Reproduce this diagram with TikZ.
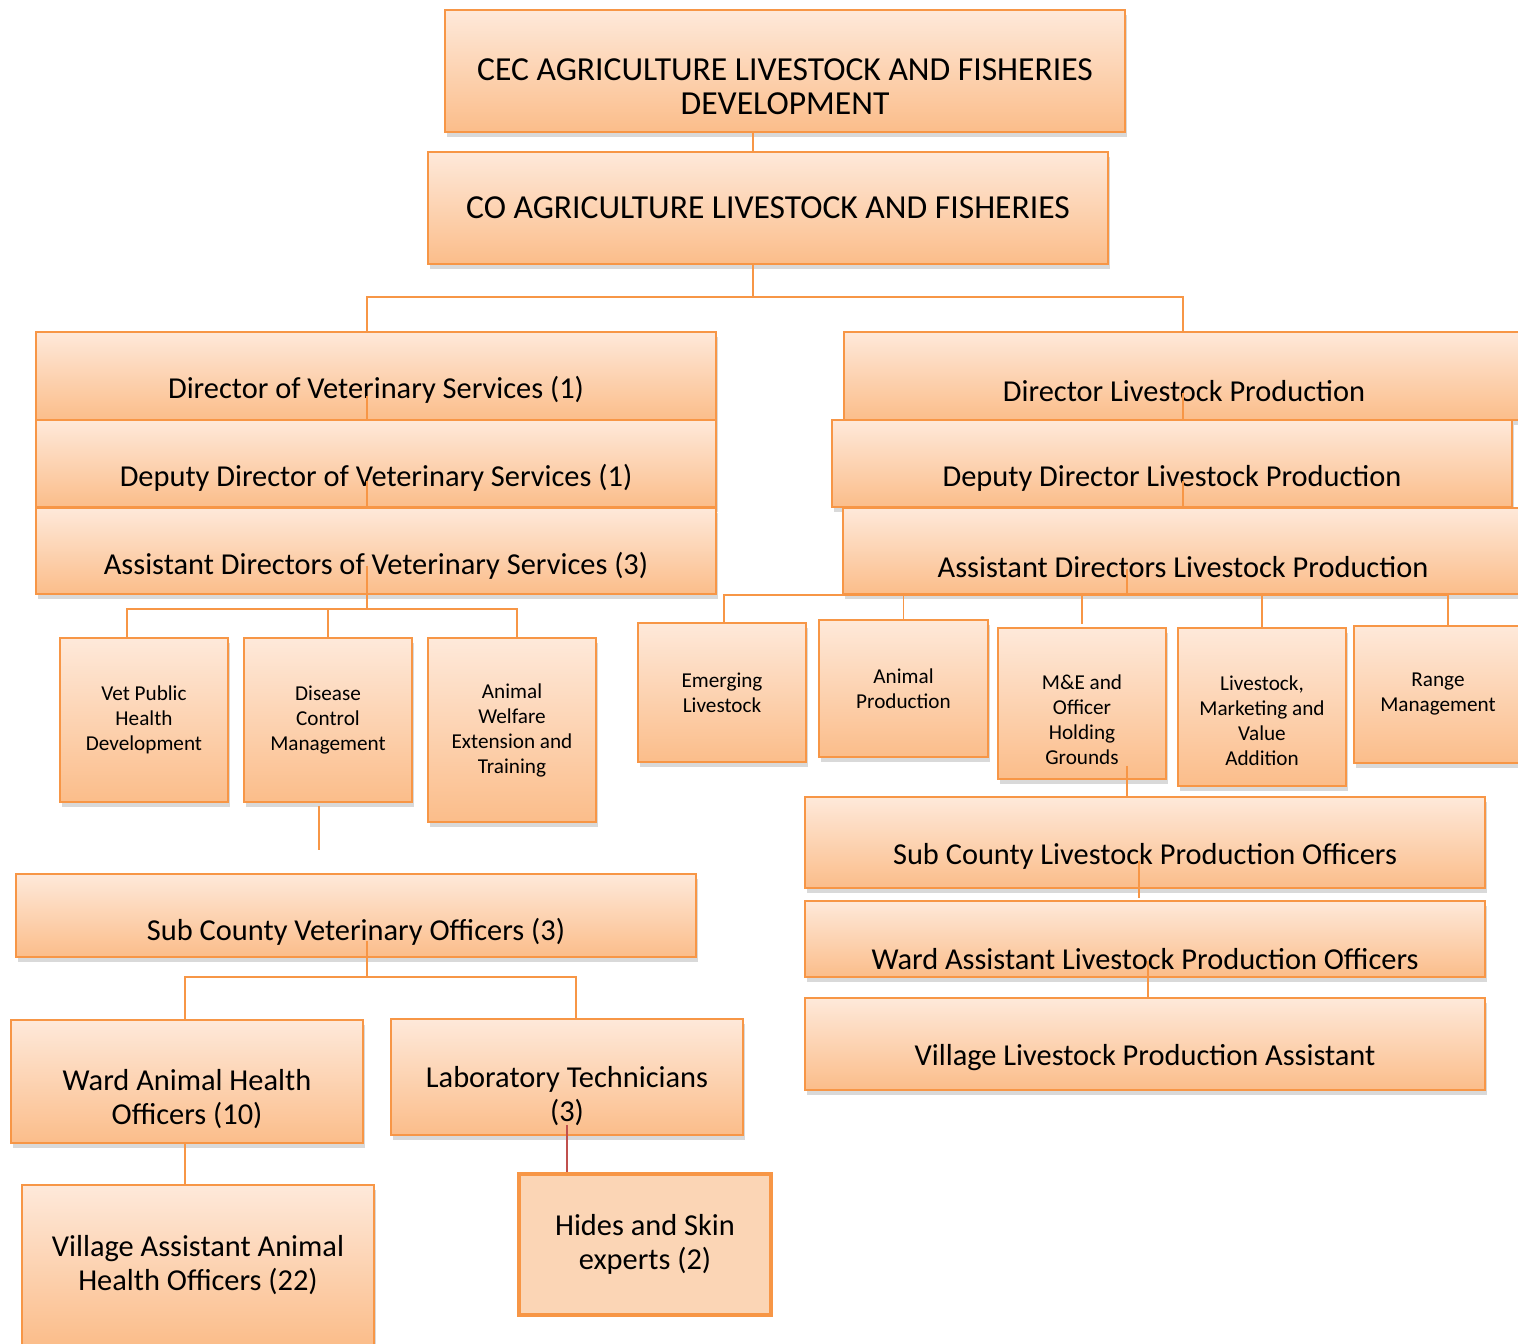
\documentclass[tikz,border=0pt]{standalone}
\usepackage{fontspec}
\setmainfont{Carlito}
\usetikzlibrary{shadows}
\definecolor{boxline}{HTML}{F79646}
\definecolor{boxtop}{HTML}{FEE9DA}
\definecolor{boxbot}{HTML}{FBBD8A}
\definecolor{hidefill}{HTML}{FBD5B5}
\definecolor{redlink}{HTML}{C0504D}
% pushes the text of a box down by #1
\newcommand{\sink}[1]{\rule{0pt}{\dimexpr0.8em+#1*2\relax}}
\tikzset{
  box/.style={draw=boxline, line width=0.75pt, top color=boxtop, bottom color=boxbot,
    align=center, inner sep=2pt,
    drop shadow={opacity=0.3, shadow xshift=1pt, shadow yshift=-2.5pt}},
  toptext/.style={font=\fontsize{16.8}{17}\selectfont},
  bigtext/.style={font=\fontsize{15.2}{17}\selectfont},
  smalltext/.style={font=\fontsize{10.6}{12.5}\selectfont},
  lower/.style={execute at begin node={\sink{#1}}},
  link/.style={draw=boxline, line width=0.75pt},
}
\begin{document}
\begin{tikzpicture}[x=0.5pt, y=-0.5pt]
\useasboundingbox (0,0) rectangle (1518,1343);
% top
\node[box, toptext, minimum width=340pt, minimum height=61pt] (cec) at (785,71) {\sink{6.75pt}CEC AGRICULTURE LIVESTOCK AND FISHERIES\\DEVELOPMENT};
\node[box, toptext, minimum width=340pt, minimum height=56pt] (co) at (768,208) {CO AGRICULTURE LIVESTOCK AND FISHERIES};
% veterinary column
\node[box, bigtext, lower=6.5pt, minimum width=340pt, minimum height=44pt] (dvs) at (376,376) {Director of Veterinary Services (1)};
\node[box, bigtext, lower=6.75pt, minimum width=340pt, minimum height=43.5pt] (ddvs) at (376,463.5) {Deputy Director of Veterinary Services (1)};
\node[box, bigtext, lower=7pt, minimum width=340pt, minimum height=43pt] (advs) at (376,551) {Assistant Directors of Veterinary Services (3)};
% livestock production column
\node[box, bigtext, lower=6.5pt, minimum width=340pt, minimum height=44pt] (dlp) at (1184,376) {Director Livestock Production};
\node[box, bigtext, lower=6.75pt, minimum width=340pt, minimum height=43.5pt] (ddlp) at (1172,463.5) {Deputy Director Livestock Production};
\node[box, bigtext, lower=7pt, minimum width=340pt, minimum height=43pt] (adlp) at (1183,551) {Assistant Directors Livestock Production};
% veterinary units
\node[box, smalltext, minimum width=84pt, minimum height=82pt] (vph) at (144,720) {Vet Public\\Health\\Development};
\node[box, smalltext, minimum width=84pt, minimum height=82pt] (dcm) at (328,720) {Disease\\Control\\Management};
\node[box, smalltext, minimum width=84pt, minimum height=92pt] (awet) at (512,730) {Animal\\Welfare\\Extension and\\Training};
% livestock units
\node[box, smalltext, minimum width=84pt, minimum height=69.5pt] (eml) at (722,692.5) {Emerging\\Livestock};
\node[box, smalltext, minimum width=84.5pt, minimum height=68.5pt] (anp) at (903.5,688.5) {Animal\\Production};
\node[box, smalltext, minimum width=84pt, minimum height=75.5pt] (meo) at (1082,703.5) {\sink{7.75pt}M\&E and\\Officer\\Holding\\Grounds};
\node[box, smalltext, minimum width=84pt, minimum height=79pt] (lmva) at (1262,707) {\sink{6.25pt}Livestock,\\Marketing and\\Value\\Addition};
\node[box, smalltext, minimum width=84pt, minimum height=68.5pt] (rng) at (1438,694.5) {Range\\Management};
% field staff, livestock
\node[box, bigtext, lower=6.25pt, minimum width=340pt, minimum height=45.5pt] (sclp) at (1145,842.5) {Sub County Livestock Production Officers};
\node[box, bigtext, lower=9pt, minimum width=340pt, minimum height=38pt] (walp) at (1145,939) {Ward Assistant Livestock Production Officers};
\node[box, bigtext, lower=6pt, minimum width=340pt, minimum height=46pt] (vlpa) at (1145,1044) {Village Livestock Production Assistant};
% field staff, veterinary
\node[box, bigtext, lower=7.75pt, minimum width=340pt, minimum height=41.5pt] (scvo) at (356,915.5) {Sub County Veterinary Officers (3)};
\node[box, bigtext, minimum width=176pt, minimum height=61.5pt] (waho) at (187,1081.5) {\sink{8pt}Ward Animal Health\\Officers (10)};
\node[box, bigtext, minimum width=176pt, minimum height=58pt] (labt) at (567,1077) {\sink{8.5pt}Laboratory Technicians\\(3)};
\node[box, bigtext, minimum width=176pt, minimum height=80pt] (vaaho) at (198,1265) {Village Assistant Animal\\Health Officers (22)};
\node[draw=boxline, line width=2pt, fill=hidefill, align=center, bigtext, minimum width=126pt, minimum height=70.5pt] (hse) at (645,1244.5) {Hides and Skin\\experts (2)};
% connectors
\coordinate (topbus) at (753,297);
\coordinate (vetbus) at (367,297);
\coordinate (lpbus) at (1183,297);
\draw[link] (topbus |- cec.south) -- (topbus |- co.north);
\draw[link] (topbus |- co.south) -- (topbus);
\draw[link] (vetbus |- dvs.north) -- (vetbus) -- (lpbus) -- (lpbus |- dlp.north);
\draw[link] ([yshift=12.5pt]vetbus |- dvs.south) -- (vetbus |- ddvs.north);
\draw[link] ([yshift=13.5pt]vetbus |- ddvs.south) -- (vetbus |- advs.north);
\coordinate (vetsub) at (367,609);
\coordinate (vetsubL) at (127,609);
\coordinate (vetsubR) at (517,609);
\draw[link] ([yshift=14.5pt]vetbus |- advs.south) -- (vetsub);
\draw[link] (vetsubL |- vph.north) -- (vetsubL) -- (vetsubR) -- (vetsubR |- awet.north);
\draw[link] (dcm.north |- vetsub) -- (dcm.north);
\coordinate (dcmend) at (319,850);
\draw[link] ([yshift=-1.5pt]dcmend |- dcm.south) -- (dcmend);
\draw[link] ([yshift=14pt]lpbus |- dlp.south) -- (lpbus |- ddlp.north);
\draw[link] ([yshift=13.5pt]lpbus |- ddlp.south) -- (lpbus |- adlp.north);
\coordinate (lpsub) at (1127,595);
\coordinate (lpsubL) at (724,595);
\coordinate (lpsubR) at (1448,595);
\draw[link] ([yshift=13pt]lpsub |- adlp.south) -- (lpsub);
\draw[link] (lpsubL |- eml.north) -- (lpsubL) -- (lpsubR) -- (lpsubR |- rng.north);
\draw[link] (anp.north |- lpsub) -- (anp.north);
\draw[link] (meo.north |- lpsub) -- ([yshift=1.5pt]meo.north);
\draw[link] (lmva.north |- lpsub) -- (lmva.north);
\draw[link] ([yshift=7pt]lpsub |- meo.south) -- (lpsub |- sclp.north);
\draw[link] ([shift={(-3pt,14pt)}]sclp.south) -- ([shift={(-3pt,-4.5pt)}]sclp.south);
\draw[link] ([shift={(1.5pt,8.5pt)}]walp.south) -- ([xshift=1.5pt]vlpa.north);
\coordinate (scvbus) at (367,977);
\coordinate (scvL) at (185,977);
\coordinate (scvR) at (576,977);
\draw[link] ([yshift=8.5pt]scvbus |- scvo.south) -- (scvbus);
\draw[link] (scvL |- waho.north) -- (scvL) -- (scvR) -- (scvR |- labt.north);
\draw[link] (scvL |- waho.south) -- (scvL |- vaaho.north);
\draw[redlink, line width=0.75pt] ([yshift=5.5pt]labt.south) -- (labt.south |- hse.north);
\end{tikzpicture}
\end{document}
